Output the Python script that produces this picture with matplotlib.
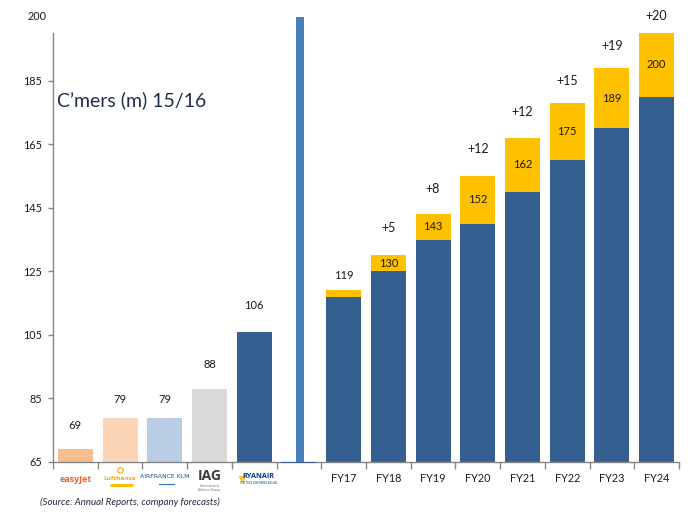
import matplotlib
matplotlib.use("Agg")
import matplotlib.pyplot as plt
import matplotlib.transforms as mtransforms

plt.rcParams['font.family'] = ['Lato', 'DejaVu Sans']

# ---------------- data ----------------
peer_names = ["easyJet", "Lufthansa", "AIRFRANCE KLM", "IAG", "RYANAIR"]
peer_values = [69, 79, 79, 88, 106]
peer_labels = ["69", "79", "79", "88", "106"]

separator_value = 205      # thin divider bar
separator_base_value = 64.6  # tiny main-series bar in the gap category

fy_labels = ["FY17", "FY18", "FY19", "FY20", "FY21", "FY22", "FY23", "FY24"]
fy_base = [117, 125, 135, 140, 150, 160, 170, 180]
fy_increment = [2, 5, 8, 15, 17, 18, 19, 20]
fy_total_labels = ["119", "130", "143", "152", "162", "175", "189", "200"]
fy_growth_labels = ["", "+5", "+8", "+12", "+12", "+15", "+19", "+20"]

y_ticks = [65, 85, 105, 125, 145, 165, 185]
y_top_label = "200"

# ---------------- style ----------------
W, H = 695, 513
DPI = 100
fig = plt.figure(figsize=(W / DPI, H / DPI), dpi=DPI)
ax = fig.add_axes([53 / W, 1 - 462 / H, (679 - 53) / W, (462 - 33) / H])

Y0 = 65
YMAX = 200
DARK = "#365F91"
YELLOW = "#FFC000"
SEP = "#4A7EBB"
peer_colors = ["#F9BE8E", "#FBD5B5", "#B9CDE5", "#D9D9D9", DARK]
AXIS = "#868686"
TXT = "#1a1a1a"
BW = 0.78
PX = 72 / DPI  # points per pixel

n_peer = len(peer_values)
sep_x = n_peer
fy_x = [n_peer + 1 + i for i in range(len(fy_labels))]

# peer bars
for i, (v, c) in enumerate(zip(peer_values, peer_colors)):
    ax.bar(i, v - Y0, bottom=Y0, width=BW, color=c, linewidth=0)
pad_px = [24, 18, 18, 24, 26]
for i, (v, lab) in enumerate(zip(peer_values, peer_labels)):
    ax.annotate(lab, xy=(i, v), xytext=(0, pad_px[i] * PX), textcoords="offset points",
                ha="center", va="center", fontsize=8, color=TXT)

# separator
ax.bar(sep_x, separator_base_value - Y0, bottom=Y0, width=BW, color=DARK, linewidth=0,
       clip_on=False, zorder=3)
ax.bar(sep_x + 0.03, separator_value - Y0, bottom=Y0, width=0.18, color=SEP, linewidth=0,
       clip_on=False, zorder=3)

# FY stacked bars
for x, b, inc in zip(fy_x, fy_base, fy_increment):
    ax.bar(x, b - Y0, bottom=Y0, width=BW, color=DARK, linewidth=0)
    ax.bar(x, inc, bottom=b, width=BW, color=YELLOW, linewidth=0)

growth_pad_px = [15, 27, 25, 27, 26, 22, 22, 17]
for k, (x, b, inc, tl, gl) in enumerate(zip(fy_x, fy_base, fy_increment, fy_total_labels, fy_growth_labels)):
    top = b + inc
    if gl == "":
        ax.annotate(tl, xy=(x, top), xytext=(0, growth_pad_px[k] * PX), textcoords="offset points",
                    ha="center", va="center", fontsize=8, color=TXT)
    else:
        ax.text(x, b + inc / 2, tl, ha="center", va="center", fontsize=8, color=TXT)
        ax.annotate(gl, xy=(x, top), xytext=(0, growth_pad_px[k] * PX), textcoords="offset points",
                    ha="center", va="center", fontsize=9, color=TXT, annotation_clip=False)

# axes
ax.set_xlim(-0.5, fy_x[-1] + 0.5)
ax.set_ylim(Y0, YMAX)
for s in ["top", "right"]:
    ax.spines[s].set_visible(False)
for s in ["left", "bottom"]:
    ax.spines[s].set_color(AXIS)
    ax.spines[s].set_linewidth(1.0)

ax.set_yticks(y_ticks)
ax.set_yticklabels([str(t) for t in y_ticks])
ax.tick_params(axis="y", length=5 * PX, width=1, color=AXIS, labelsize=7.8,
               labelcolor=TXT, pad=4)
ax.annotate(y_top_label, xy=(0, YMAX), xycoords=("axes fraction", "data"),
            xytext=(-6 * PX, 16 * PX), textcoords="offset points",
            ha="right", va="center", fontsize=7.8, color=TXT, annotation_clip=False)

# x ticks at category boundaries
n_all = fy_x[-1] + 1
ax.set_xticks([i - 0.5 for i in range(n_all + 1)])
ax.set_xticklabels([])
ax.tick_params(axis="x", length=5, width=1, color=AXIS)

# category labels
trans = mtransforms.blended_transform_factory(ax.transData, fig.transFigure)
ylab = 1 - 478 / H
for x, lab in zip(fy_x, fy_labels):
    ax.text(x, ylab, lab, transform=trans, ha="center", va="center", fontsize=7.8, color=TXT)

# logo-like peer labels
LOGO = ["Open Sans", "DejaVu Sans"]
ax.text(0, 1 - 480 / H, "easyJet", transform=trans, ha="center", va="center",
        fontsize=6.5, fontweight="bold", color="#F26522", family=LOGO)
ax.text(1, 1 - 479 / H, "Lufthansa", transform=trans, ha="center", va="center",
        fontsize=4.6, fontweight="bold", color="#F2A900", family=LOGO)
ax.plot([1], [1 - 470 / H], transform=trans, marker="o", ms=4, mfc="none", mec="#F2A900",
        mew=0.8, clip_on=False)
ax.plot([0.78, 1.28], [1 - 484.5 / H] * 2, transform=trans, color="#FFC000", lw=2.2,
        solid_capstyle="butt", clip_on=False)
ax.text(2, 1 - 477 / H, "AIRFRANCE KLM", transform=trans, ha="center", va="center",
        fontsize=4.4, color="#1F4E8C", family=["DejaVu Sans"])
ax.plot([1.88, 2.2], [1 - 484 / H] * 2, transform=trans, color="#2E75B6", lw=0.8, clip_on=False)
ax.text(3, 1 - 476 / H, "IAG", transform=trans, ha="center", va="center",
        fontsize=10, fontweight="bold", color="#3c3c3c", family=LOGO)
ax.text(3, 1 - 488 / H, "International\nAirlines Group", transform=trans, ha="center", va="center",
        fontsize=2.5, color="#777777", linespacing=1.0)
ax.text(4.1, 1 - 477 / H, "RYANAIR", transform=trans, ha="center", va="center",
        fontsize=5.2, fontweight="bold", color="#073590", family=LOGO)
ax.text(4.1, 1 - 483 / H, "THE TRUE LOW FARES AIRLINE", transform=trans, ha="center", va="center",
        fontsize=1.8, color="#073590")
ax.plot([3.72], [1 - 479 / H], transform=trans, marker="v", ms=4.5, color="#F1C933", clip_on=False)

# title and source
fig.text(57 / W, 1 - 100 / H, "C\u2019mers (m) 15/16", ha="left", va="center",
         fontsize=14, color="#1F2D4D")
fig.text(40 / W, 1 - 502 / H, "(Source: Annual Reports, company forecasts)", ha="left",
         va="center", fontsize=7, fontstyle="italic", color="#2B2440")

fig.savefig("out.png", dpi=DPI)
